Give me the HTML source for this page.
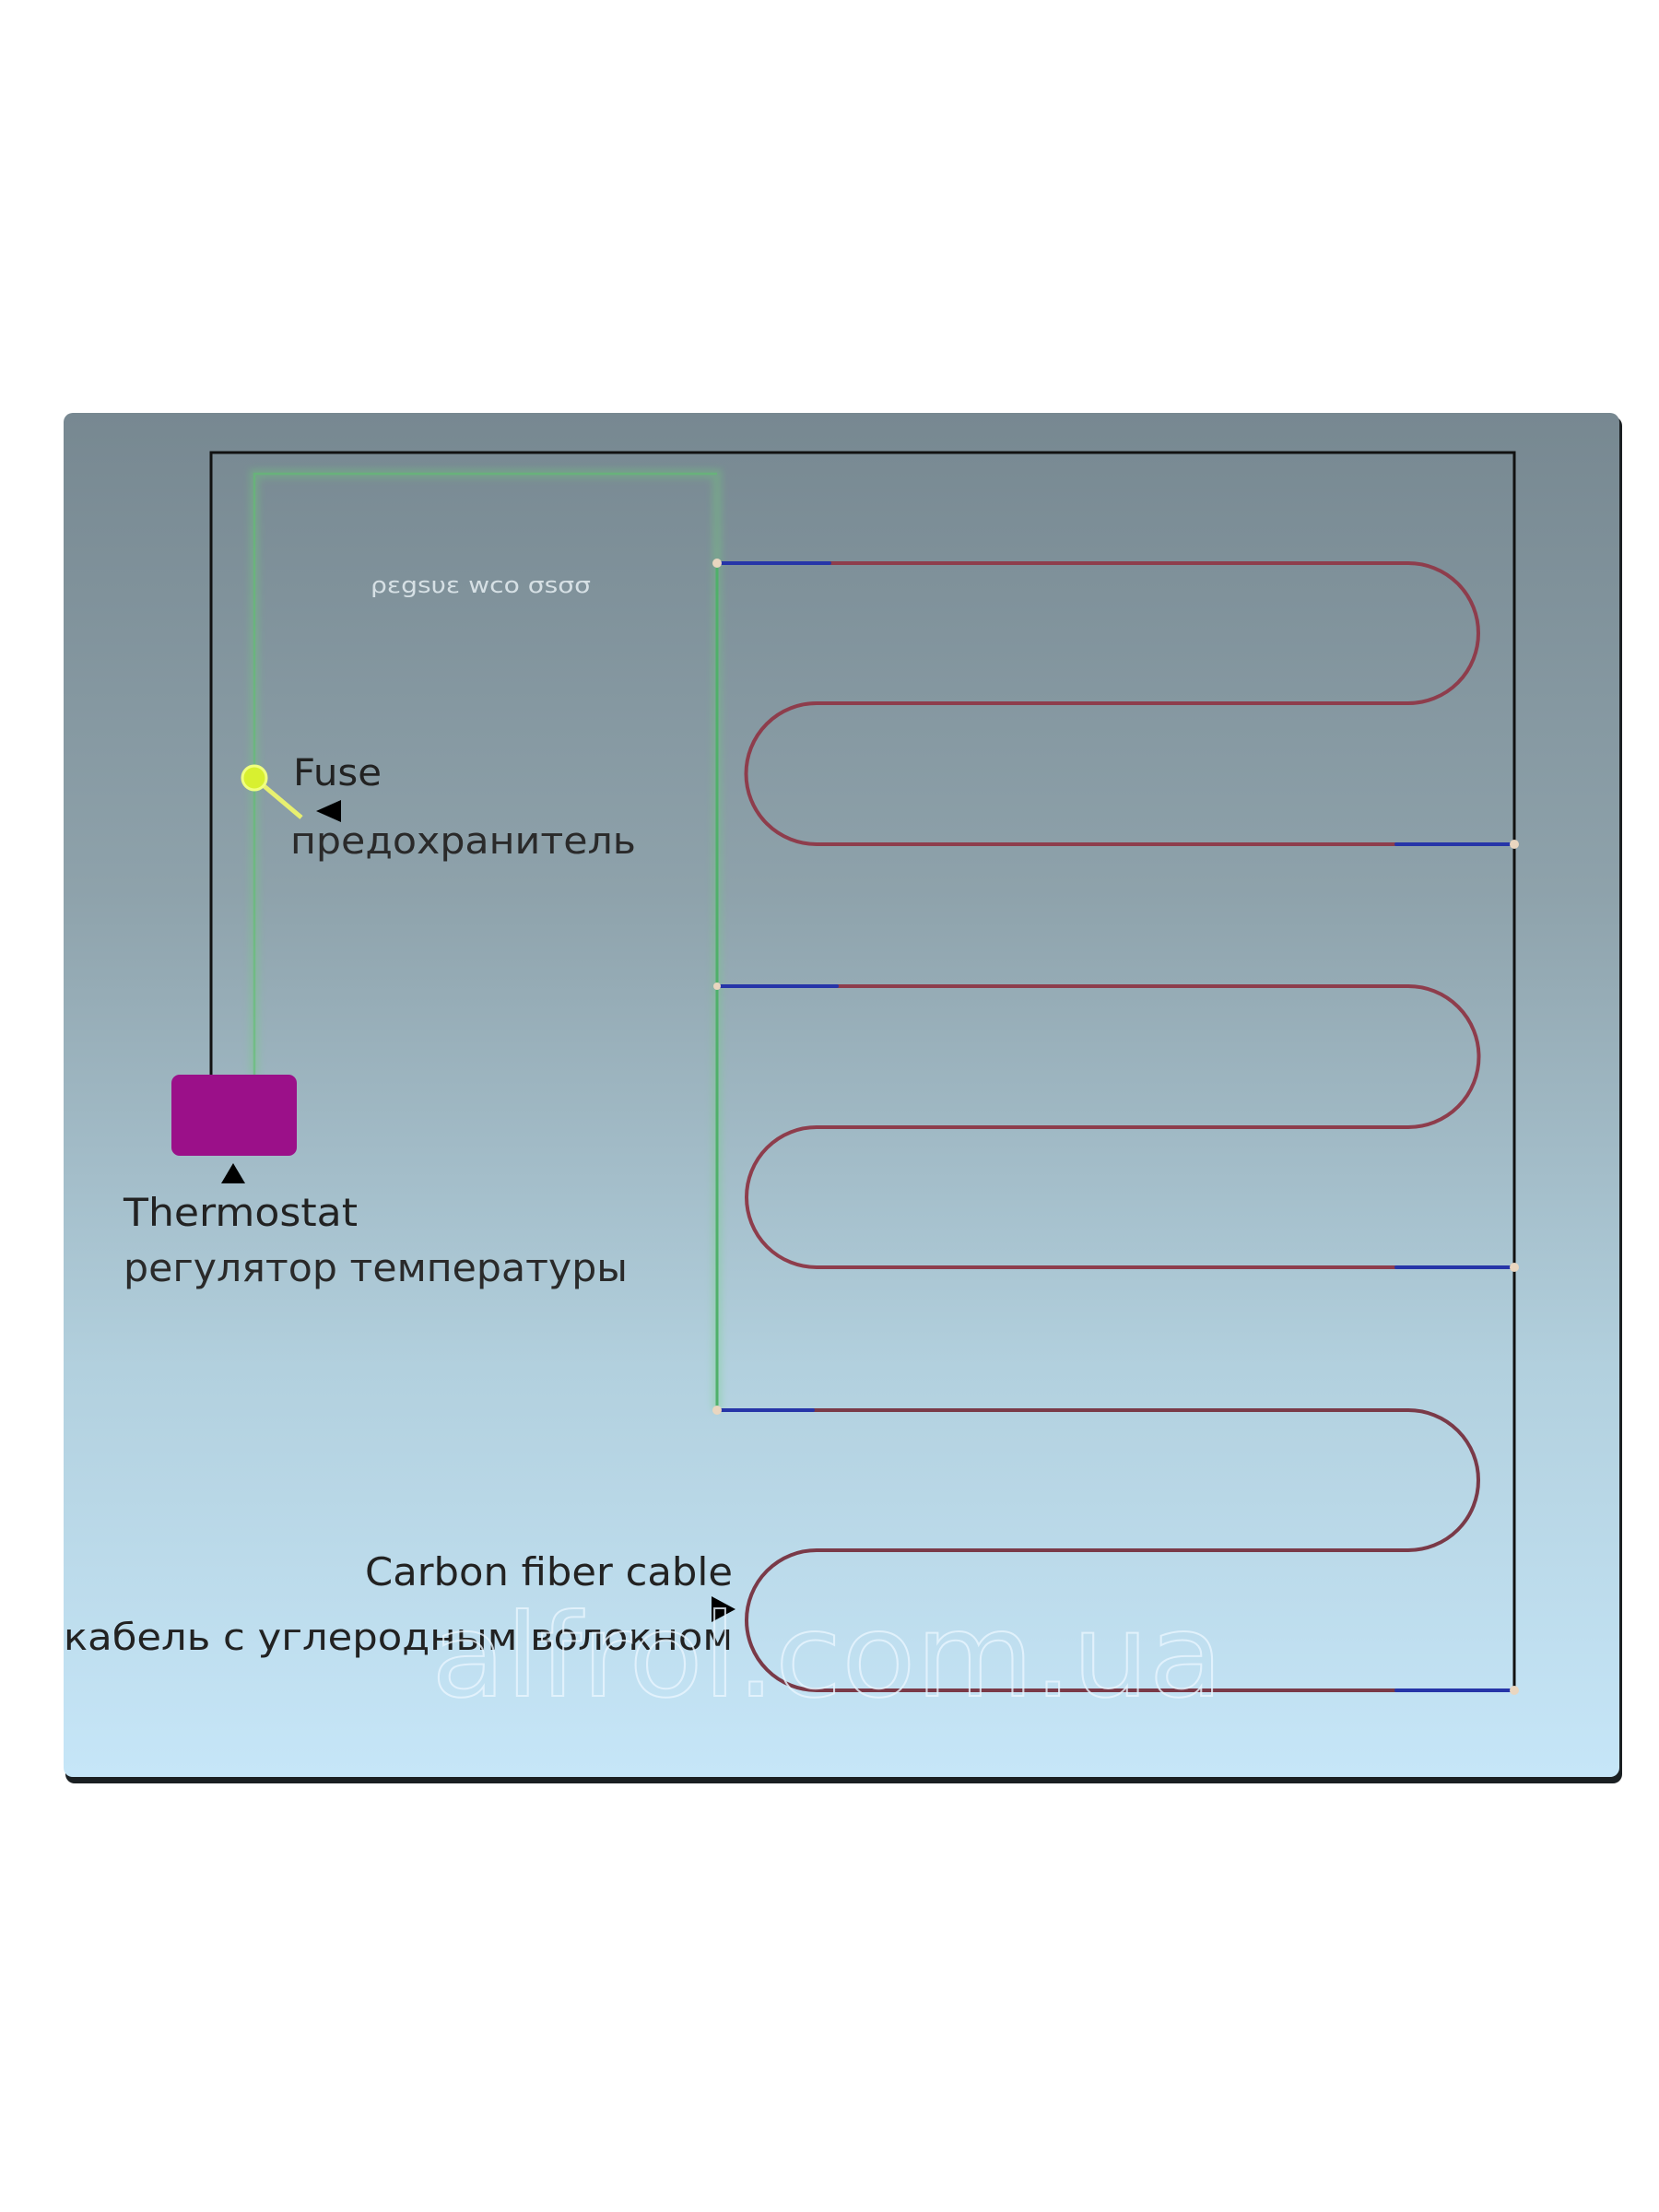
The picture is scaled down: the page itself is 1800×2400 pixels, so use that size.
<!DOCTYPE html>
<html><head><meta charset="utf-8"><style>
html,body{margin:0;padding:0;background:#fff;width:1800px;height:2400px;overflow:hidden}
svg{display:block}
text{font-family:"DejaVu Sans","Liberation Sans",sans-serif}
</style></head><body>
<svg width="1800" height="2400" viewBox="0 0 1800 2400" xmlns="http://www.w3.org/2000/svg">
<defs>
<linearGradient id="bg" x1="0" y1="0" x2="0" y2="1">
<stop offset="0" stop-color="#778891"/>
<stop offset="0.35" stop-color="#8ea2ab"/>
<stop offset="0.7" stop-color="#b2d0de"/>
<stop offset="1" stop-color="#c6e6f8"/>
</linearGradient>
<filter id="glow"><feGaussianBlur stdDeviation="4"/></filter>
</defs>
<rect x="71" y="452" width="1689" height="1483" rx="10" fill="#1a1f22"/>
<rect x="69" y="448" width="1688" height="1480" rx="10" fill="url(#bg)"/>
<path d="M229 1166 V491 H1643 V1834" fill="none" stroke="#111" stroke-width="3"/>
<path d="M276 1166 V514 H778 V1530" fill="none" stroke="#6fd07a" stroke-width="10" opacity="0.35" filter="url(#glow)"/>
<path d="M276 1166 V514 H778" fill="none" stroke="#5fbf6f" stroke-width="2.5" opacity="0.6"/>
<path d="M778 611 V1530" fill="none" stroke="#4fb06a" stroke-width="3"/>
<line x1="276" y1="844" x2="327" y2="887" stroke="#e8f070" stroke-width="5"/>
<circle cx="276" cy="844" r="13" fill="#d8f030" stroke="#f0ff80" stroke-width="3"/>
<rect x="186" y="1166" width="136" height="88" rx="9" fill="#9b1089"/>
<g fill="none" stroke-width="4" stroke-linecap="round">
<path d="M780 611 H1528 A76 76 0 0 1 1528 763 H886 A76.5 76.5 0 0 0 886 916 H1640" stroke="#8e3d4c"/>
<path d="M780 1070 H1528 A76.5 76.5 0 0 1 1528 1223 H886 A76 76 0 0 0 886 1375 H1640" stroke="#8e3d4c"/>
<path d="M780 1530 H1528 A76 76 0 0 1 1528 1682 H886 A76 76 0 0 0 886 1834 H1640" stroke="#7a3a48"/>
<path d="M782 611 H900 M782 1070 H908 M782 1530 H882 M1515 916 H1638 M1515 1375 H1638 M1515 1834 H1638" stroke="#2635a8"/>
</g>
<g fill="#e9d6c0"><circle cx="778" cy="611" r="5"/><circle cx="1643" cy="916" r="5"/><circle cx="1643" cy="1375" r="5"/><circle cx="778" cy="1530" r="5"/><circle cx="1643" cy="1834" r="5"/><circle cx="778" cy="1070" r="4"/></g>
<text x="402" y="643" font-size="24" fill="#e6eef2" opacity="0.85" textLength="239" lengthAdjust="spacingAndGlyphs">ρεgsυε wco σsσσ</text>
<text x="318" y="852" font-size="40" fill="#222" textLength="96" lengthAdjust="spacingAndGlyphs">Fuse</text>
<polygon points="343,880 370,868 370,892" fill="#000"/>
<text x="315" y="926" font-size="40" fill="#2a2a2a" textLength="375" lengthAdjust="spacingAndGlyphs">предохранитель</text>
<polygon points="253,1262 240,1284 266,1284" fill="#000"/>
<text x="134" y="1330" font-size="42" fill="#222" textLength="254" lengthAdjust="spacingAndGlyphs">Thermostat</text>
<text x="134" y="1390" font-size="42" fill="#2a2a2a" textLength="547" lengthAdjust="spacingAndGlyphs">регулятор температуры</text>
<text x="396" y="1720" font-size="42" fill="#222" textLength="399" lengthAdjust="spacingAndGlyphs">Carbon fiber cable</text>
<polygon points="798,1746 772,1732 772,1760" fill="#000"/>
<text x="69" y="1790" font-size="40" fill="#222" textLength="726" lengthAdjust="spacingAndGlyphs">кабель с углеродным волокном</text>
<text x="468" y="1840" font-size="125" fill="none" stroke="#eaf6ff" stroke-width="2" opacity="0.8" font-family="Liberation Sans, sans-serif" textLength="859" lengthAdjust="spacingAndGlyphs">alfrol.com.ua</text>
</svg>
</body></html>
